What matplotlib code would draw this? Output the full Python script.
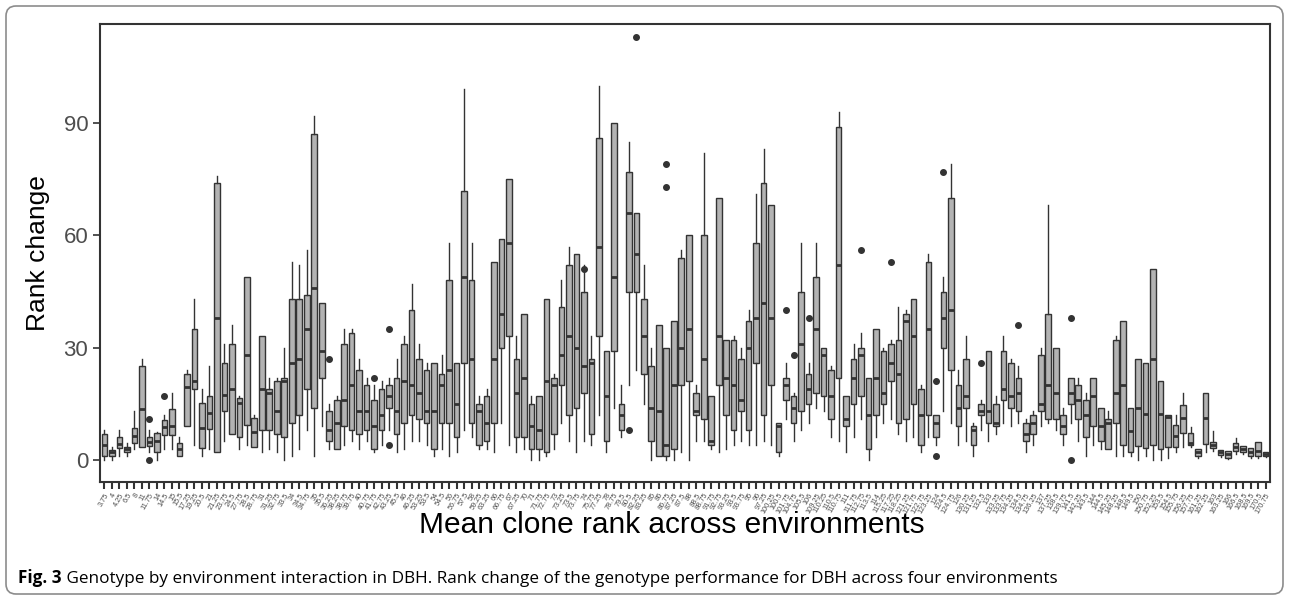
import matplotlib
matplotlib.use("Agg")
import matplotlib.pyplot as plt
from matplotlib.patches import FancyBboxPatch

# mean clone rank (x categories)
labels = [
    "3.75", "4", "4.25", "6.5", "8", "11", "11.75", "14", "14.5", "15", "15.5", "17.25",
    "19.25", "20.5", "21", "21.25", "23.75", "24.5", "27.75", "28.5", "28.75", "31",
    "31.25", "32.75", "33.5", "34", "34.5", "34.75", "35", "35.5", "36.25", "38.25",
    "38.75", "39.75", "40", "40.75", "41.75", "42.75", "43.25", "45.5", "46", "46.25",
    "53.25", "53.5", "54", "54.5", "56", "56.75", "57.5", "58", "59.25", "63.25", "66",
    "66.75", "67", "67.25", "70", "71", "71.75", "72.75", "73", "73.25", "73.5", "73.75",
    "74", "75.75", "77.25", "78", "78.75", "79.5", "80.5", "82.25", "83.25", "85", "86",
    "86.75", "87.25", "87.5", "88", "88.5", "88.75", "91.75", "92.75", "93.25", "93.5",
    "93.75", "95", "96", "97.25", "100.25", "100.5", "101.75", "104.75", "105.5", "106",
    "109.25", "110.25", "110.5", "110.75", "111", "111.75", "112.75", "113.5", "114",
    "115.25", "117.25", "118.25", "121.25", "121.75", "122.75", "123.25", "124", "124.5",
    "124.75", "126", "130.25", "131.25", "132.5", "133", "133.25", "133.75", "134.25",
    "134.5", "134.75", "136.25", "137", "137.25", "138.5", "139.75", "141.5", "142.25",
    "143.5", "144", "144.5", "145.25", "148.25", "148.5", "149.5", "150", "150.75",
    "152.25", "153.5", "154.5", "155.75", "156.25", "157.75", "161.25", "162.25", "163",
    "163.25", "166", "166.5", "168.5", "169.5", "170.5", "170.75",
]

# box statistics for rank change
whis_lo = [0, 0, 1, 1, 3, 3.5, 2, 0, 3, 3, 1, 9, 4, 1, 3, 2, 5, 7, 3, 4,
           3.5, 2, 3, 2, 0, 1, 3, 8, 1, 9, 3, 3, 4, 5, 3, 5, 2, 4, 8,
           2, 3, 5, 5, 4, 1, 3, 1, 2, 8, 6, 3, 3, 2, 10, 4, 2, 3, 0, 0,
           1, 3, 10, 5, 2, 5, 4, 12, 2, 14, 6, 20, 24, 15, 0, 1, 0, 0, 2, 0,
           5, 5, 3, 2, 3, 4, 5, 4, 4, 5, 4, 1, 11, 5, 8, 10, 14, 13, 6, 5,
           2, 6, 11, 0, 6, 10, 11, 7, 5, 6, 2, 6, 4, 13, 10, 4, 5, 1, 8, 5, 7,
           10, 9, 10, 2, 4, 9, 10, 8, 4, 10, 5, 1, 4, 3, 3, 1, 1, 1, 0, 1,
           0, 0, 0.6, 2, 3.5, 3.5, 0.5, 2, 2.5, 0.8, 0.3, 1.5, 1.5, 0.5, 0.5, 0.8]
q1 = [1, 1, 3.2, 2, 4.5, 3.5, 3.7, 2, 6.7, 6.7, 1, 9, 19, 3.2, 8.3, 2, 13, 7, 6, 9.4,
      3.5, 8, 8, 7, 6, 10, 12, 19, 14, 22, 5, 3, 9, 8, 7, 8, 3, 8, 14,
      7, 10, 12, 11, 10, 3, 10, 10, 6, 26, 10, 4, 5, 10, 30, 33, 6, 6, 3, 3,
      2, 7, 20, 12, 14, 18, 7, 33, 5, 29, 8, 45, 45, 23, 5, 1, 1, 3, 20, 21,
      12, 11, 4, 20, 12, 8, 13, 8, 26, 12, 20, 2, 16, 10, 13, 15, 18, 17, 11, 22,
      9, 15, 17, 3, 12, 15, 21, 10, 11, 15, 4, 12, 6, 30, 24, 9, 14, 4, 12, 10, 9,
      16, 14, 13, 5, 7, 13, 11, 11, 7, 15, 11, 6, 9, 5, 3, 10, 4, 2, 3.7, 3.3,
      4, 3, 3.5, 3.5, 7.2, 4, 1, 4.3, 3.2, 1.3, 0.6, 2.4, 2, 1, 1, 1]
med = [4, 2, 4.3, 3, 6.5, 13.7, 4.9, 5, 8.8, 9, 3, 19.6, 21, 8.6, 12.6, 38, 17.4, 19, 15.3, 28,
       7.5, 19, 18, 13, 21, 26, 27, 35, 46, 29, 8, 10, 16, 20, 13, 13, 9, 12, 17,
       13, 21, 20, 18, 13, 13, 20, 24, 15, 49, 27, 13, 10, 27, 39, 58, 18, 22, 9, 8,
       21, 20, 28, 33, 30, 25, 26, 57, 17, 49, 12, 66, 55, 33, 14, 13, 4, 20, 30, 35,
       13, 27, 5, 33, 22, 20, 16, 30, 38, 42, 38, 9, 20, 14, 31, 19, 35, 28, 17, 52,
       11, 22, 28, 12, 22, 18, 26, 23, 37, 33, 12, 35, 10, 38, 40, 14, 17, 8, 13, 13, 10,
       19, 17, 18, 7, 10, 15, 20, 18, 9, 18, 16, 12, 17, 9, 10, 18, 20, 7.6, 14, 12.3,
       27, 12.3, 11.5, 6.3, 11.2, 4.5, 2, 11.2, 4, 2, 1.5, 3.5, 3, 2, 2.3, 1.5]
q3 = [7, 2.7, 6.2, 3.5, 8.6, 25, 6.2, 7.2, 10.7, 13.7, 4.5, 23, 35, 15.3, 17, 74, 26, 31, 16.6, 49,
      11.3, 33, 19, 21, 22, 43, 43, 44, 87, 42, 13, 16, 31, 34, 24, 20, 16, 19, 20,
      22, 31, 40, 27, 24, 26, 23, 48, 26, 72, 48, 15, 17, 53, 59, 75, 27, 39, 15, 17,
      43, 22, 41, 52, 55, 45, 27, 86, 29, 90, 15, 77, 66, 43, 25, 36, 30, 37, 54, 60,
      18, 60, 17, 70, 32, 32, 27, 37, 58, 74, 68, 10, 22, 17, 45, 23, 49, 30, 24, 89,
      17, 27, 30, 22, 35, 29, 31, 32, 39, 43, 19, 53, 12, 45, 70, 20, 27, 9, 15, 29, 15,
      29, 26, 22, 10, 12, 28, 39, 30, 12, 22, 20, 16, 22, 14, 11, 32, 37, 14, 27, 26,
      51, 21, 12, 9.4, 14.7, 7.2, 3, 18, 4.8, 2.7, 2.3, 4.6, 3.6, 3.3, 4.8, 2.1]
whis_hi = [8, 3.5, 8, 4.5, 13, 27, 8, 7.5, 12, 18, 6, 24, 43, 19, 25, 76, 31, 36, 17, 49,
           12, 33, 22, 22, 30, 53, 52, 56, 92, 42, 15, 17, 35, 35, 27, 22, 20, 21, 22,
           27, 33, 47, 31, 26, 26, 28, 58, 26, 99, 58, 17, 19, 53, 59, 75, 33, 39, 17, 17,
           43, 23, 48, 57, 55, 52, 33, 100, 29, 90, 20, 85, 66, 52, 30, 36, 30, 37, 56, 60,
           20, 82, 17, 70, 32, 33, 30, 40, 71, 83, 68, 10, 26, 18, 58, 26, 58, 30, 25, 93,
           17, 31, 34, 22, 35, 30, 32, 41, 40, 43, 20, 55, 12, 49, 79, 24, 33, 10, 16, 29, 17,
           33, 27, 25, 11, 13, 30, 68, 30, 14, 22, 22, 18, 22, 14, 13, 33, 37, 14, 27, 26,
           51, 21, 12, 12, 18, 8.8, 3, 18, 7.8, 2.7, 2.3, 5.9, 3.6, 3.3, 4.8, 2.1]

# outliers: category index and rank change
out_idx = [6, 6, 8, 30, 36, 38, 38, 64, 70, 71, 75, 75, 91, 92, 94, 101, 105, 111, 111, 112, 117, 122, 129, 129]
out_val = [11, 0, 17, 27, 22, 35, 4, 51, 8, 113, 73, 79, 40, 28, 38, 56, 53, 21, 1, 77, 26, 36, 38, 0]

stats = []
for i in range(len(labels)):
    fl = [v for j, v in zip(out_idx, out_val) if j == i]
    stats.append(dict(whislo=whis_lo[i], q1=q1[i], med=med[i], q3=q3[i], whishi=whis_hi[i], fliers=fl))

W, H = 1289, 598
fig = plt.figure(figsize=(W / 100, H / 100), dpi=100)
ax = fig.add_axes([100 / W, 1 - 482 / H, 1170 / W, 458 / H])

dark = "#333333"
ax.bxp(stats, positions=range(1, len(labels) + 1), widths=0.75, patch_artist=True,
       showcaps=False,
       boxprops=dict(facecolor="#b3b3b3", edgecolor=dark, linewidth=1.0),
       medianprops=dict(color=dark, linewidth=2.0),
       whiskerprops=dict(color=dark, linewidth=1.0),
       flierprops=dict(marker="o", markersize=4, markerfacecolor=dark, markeredgecolor=dark))

ax.set_xlim(0.4, len(labels) + 0.6)
ax.set_ylim(-5.9, 116.5)
ax.set_yticks([0, 30, 60, 90])
ax.set_xticks(range(1, len(labels) + 1))
ax.set_xticklabels(labels, rotation=60, ha="right", rotation_mode="anchor",
                   fontsize=5.3, color="#4d4d4d", family="Liberation Sans")
for t in ax.get_yticklabels():
    t.set_family("Liberation Sans")
ax.tick_params(axis="y", labelsize=16, labelcolor="#4d4d4d", color=dark, length=5, width=1.2)
ax.tick_params(axis="x", color=dark, length=5, width=1.5, pad=2)
for s in ax.spines.values():
    s.set_color(dark)
    s.set_linewidth(1.5)

ax.set_ylabel("Rank change", fontsize=19, family="Liberation Sans", labelpad=10)
ax.set_xlabel("Mean clone rank across environments", fontsize=21.5, family="Liberation Sans")
ax.xaxis.set_label_coords((672 - 100) / 1170, (482 - 525) / 458)
ax.xaxis.label.set_va("center")

# outer frame of the figure panel
frame = FancyBboxPatch((0.06, 0.04), 12.77, 5.88, boxstyle="round,pad=0,rounding_size=0.1",
                       transform=fig.dpi_scale_trans, facecolor="none", edgecolor="#8c8c8c",
                       linewidth=1.2)
fig.patches.append(frame)

t1 = fig.text(18 / W, 1 - 583 / H, "Fig. 3", fontsize=12.3, fontweight="bold", family="Open Sans")
ax.annotate(" Genotype by environment interaction in DBH. Rank change of the genotype performance "
            "for DBH across four environments",
            xy=(1, 0), xycoords=t1, va="bottom", ha="left", fontsize=12.3, family="Open Sans",
            annotation_clip=False)

fig.savefig("out.png", dpi=100)
